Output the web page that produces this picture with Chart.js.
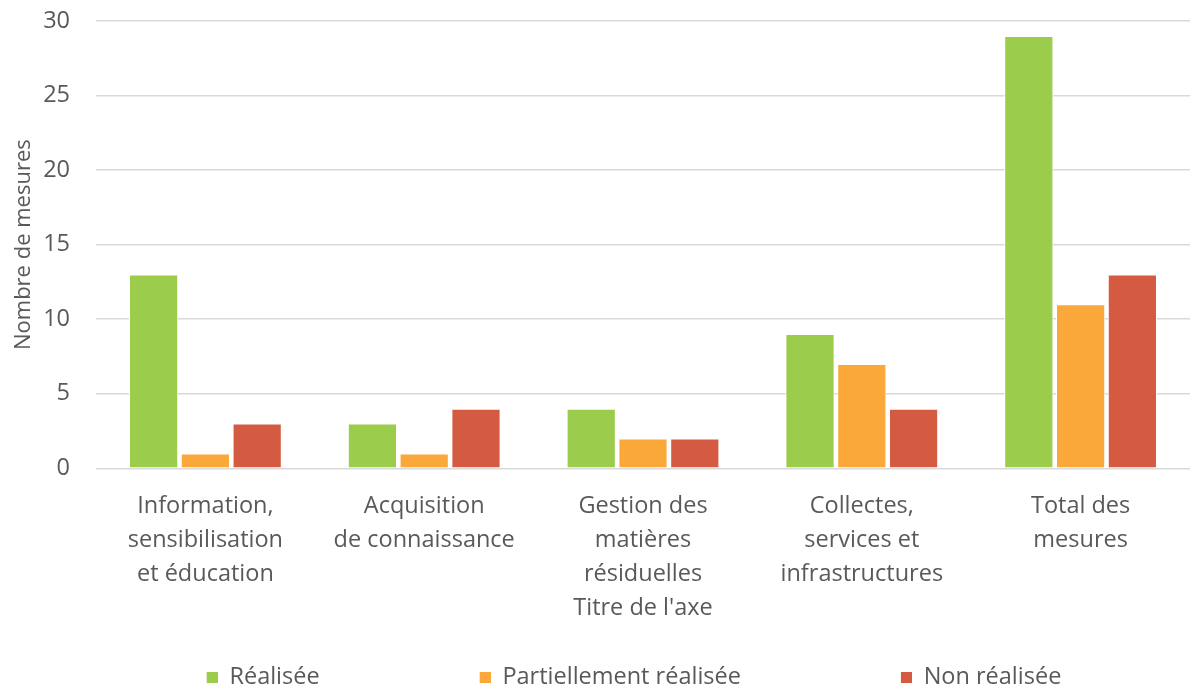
<!DOCTYPE html>
<html>
<head>
  <title>Mesures</title>
  <script src="https://cdn.jsdelivr.net/npm/chart.js"></script>
  <style>
    body { margin: 0; background: #fff; }
    #wrap { width: 1195px; height: 690px; }
  </style>
</head>
<body>
  <div id="wrap"><canvas id="chart"></canvas></div>
  <script>
    const categories = [
      ['Information,', 'sensibilisation', 'et éducation'],
      ['Acquisition', 'de connaissance'],
      ['Gestion des', 'matières', 'résiduelles'],
      ['Collectes,', 'services et', 'infrastructures'],
      ['Total des', 'mesures']
    ];
    const realisee = [13, 3, 4, 9, 29];
    const partielle = [1, 1, 2, 7, 11];
    const nonRealisee = [3, 4, 2, 4, 13];
    const yTicks = [0, 5, 10, 15, 20, 25, 30];
    const colors = ['#9BCC4B', '#FAA83A', '#D45A42'];

    const font = '"Open Sans", sans-serif';
    const textColor = '#595959';
    const fs = 23.5;

    // legend marker: blank gap on the left, small square right before the text
    const markerW = 167, markerSize = 11;
    const legendShift = 41;
    function marker(color) {
      const c = document.createElement('canvas');
      c.width = markerW;
      c.height = markerSize;
      const ctx = c.getContext('2d');
      ctx.fillStyle = color;
      ctx.fillRect(markerW - markerSize, 0, markerSize, markerSize);
      return c;
    }
    const markers = colors.map(marker);

    function ds(label, data, color) {
      return {
        label: label,
        data: data,
        backgroundColor: color,
        borderColor: '#ffffff',
        borderWidth: 1,
        categoryPercentage: 0.71,
        barPercentage: 0.95
      };
    }

    new Chart(document.getElementById('chart'), {
      type: 'bar',
      data: {
        labels: categories,
        datasets: [
          ds('Réalisée', realisee, colors[0]),
          ds('Partiellement réalisée', partielle, colors[1]),
          ds('Non réalisée', nonRealisee, colors[2])
        ]
      },
      plugins: [{
        id: 'legendShift',
        afterLayout: chart => {
          chart.legend.left -= legendShift;
          chart.legend.right -= legendShift;
        }
      }],
      options: {
        responsive: true,
        maintainAspectRatio: false,
        animation: false,
        layout: { padding: { top: 0, right: 5, left: 4, bottom: -9 } },
        plugins: {
          tooltip: { enabled: false },
          legend: {
            position: 'bottom',
            labels: {
              usePointStyle: true,
              pointStyleWidth: markerW,
              boxHeight: markerSize,
              padding: 4,
              color: textColor,
              font: { family: font, size: fs },
              generateLabels: chart => {
                const items = Chart.defaults.plugins.legend.labels.generateLabels(chart);
                items.forEach((it, i) => { it.pointStyle = markers[i]; });
                return items;
              }
            }
          }
        },
        scales: {
          x: {
            grid: { display: false, drawTicks: false },
            border: { display: false },
            ticks: {
              color: textColor,
              font: { family: font, size: fs, lineHeight: 1.447 },
              maxRotation: 0,
              padding: 21
            },
            title: {
              display: true,
              text: "Titre de l'axe",
              color: textColor,
              font: { family: font, size: fs },
              padding: { top: -18, bottom: 39 }
            }
          },
          y: {
            min: 0,
            max: 30,
            afterBuildTicks: axis => { axis.ticks = yTicks.map(v => ({ value: v })); },
            afterFit: axis => { axis.width = 92; axis.paddingTop = 21; },
            grid: { color: '#d9d9d9', lineWidth: 1.5, drawTicks: false },
            border: { display: false },
            ticks: {
              color: textColor,
              font: { family: font, size: fs },
              padding: 26
            },
            title: {
              display: true,
              text: 'Nombre de mesures',
              color: textColor,
              font: { family: font, size: 22 },
              padding: { top: 7, bottom: 0 }
            }
          }
        }
      }
    });
  </script>
</body>
</html>
